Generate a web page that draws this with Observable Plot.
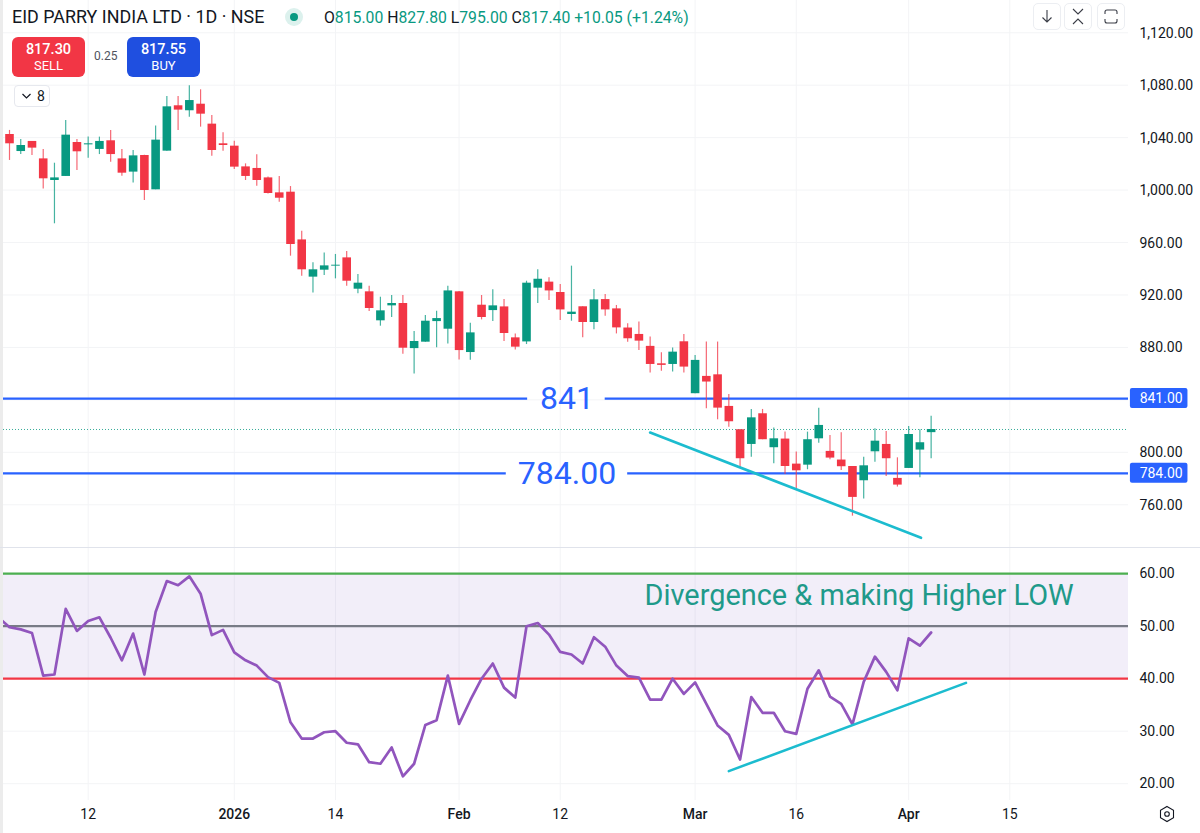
<!DOCTYPE html>
<html><head><meta charset="utf-8">
<script src="https://cdn.jsdelivr.net/npm/d3@7"></script>
<script src="https://cdn.jsdelivr.net/npm/@observablehq/plot@0.6"></script>
<style>
html,body{margin:0;padding:0;background:#fff;}
#chart{position:relative;width:1200px;height:833px;overflow:hidden;font-family:Roboto,sans-serif;color:#131722;}
#chart svg.plot{position:absolute;left:0;display:block;background:transparent;}
.abs{position:absolute;white-space:nowrap;}
.btn{position:absolute;top:37px;width:73px;height:40px;border-radius:6px;color:#fff;text-align:center;font-size:14.5px;font-weight:500;line-height:16px;padding-top:5px;box-sizing:border-box;}
.btn small{display:block;font-size:13px;font-weight:400;}
.ico{position:absolute;top:3px;width:28px;height:27px;border:1px solid #eceef2;border-radius:5px;box-sizing:border-box;background:#fff;}
.ico svg{display:block;}
.g{color:#089981;}
</style></head><body>
<div id="chart">
  <div class="abs" style="left:0;top:0;width:3px;height:833px;background:#ececec"></div>
  <div class="abs" style="left:0;top:547px;width:1200px;height:1px;background:#e0e3eb"></div>
  <div id="p1"></div><div id="p2"></div>
  <div class="abs" style="left:12px;top:6px;font-size:17.9px;line-height:22px;">EID PARRY INDIA LTD · 1D · NSE</div>
  <div class="abs" style="left:285px;top:8px;width:18px;height:18px;border-radius:50%;background:#dcf1ed"></div>
  <div class="abs" style="left:290px;top:13px;width:8px;height:8px;border-radius:50%;background:#089981"></div>
  <div class="abs" style="left:324px;top:7px;font-size:15.75px;line-height:22px;">O<span class="g">815.00</span> H<span class="g">827.80</span> L<span class="g">795.00</span> C<span class="g">817.40</span> <span class="g">+10.05 (+1.24%)</span></div>
  <div class="btn" style="left:12px;background:#f23645">817.30<small>SELL</small></div>
  <div class="abs" style="left:94px;top:49px;font-size:12px;line-height:14px;color:#50535e">0.25</div>
  <div class="btn" style="left:127px;background:#1f4fe0">817.55<small>BUY</small></div>
  <div class="abs" style="left:14px;top:85px;width:36px;height:22px;border:1px solid #e6e8ee;border-radius:4px;box-sizing:border-box;background:#fff;font-size:14px;line-height:20px;">
    <svg width="14" height="20" style="position:absolute;left:5px;top:0"><path d="M2.5 8l4 4 4-4" fill="none" stroke="#131722" stroke-width="1.2"/></svg>
    <span style="position:absolute;left:22px;top:0">8</span></div>
  <div class="ico" style="left:1033px"><svg width="26" height="25"><path d="M13 6v12M8.5 13.5l4.5 4.5 4.5-4.5" fill="none" stroke="#3a3d47" stroke-width="1.1"/></svg></div>
  <div class="ico" style="left:1064px"><svg width="26" height="25"><path d="M8 5l5 5 5-5M8 20l5-5 5 5" fill="none" stroke="#3a3d47" stroke-width="1.1"/></svg></div>
  <div class="ico" style="left:1097px"><svg width="26" height="25"><path d="M7 10V8a2 2 0 0 1 2-2h8a2 2 0 0 1 2 2v2M7 15v2a2 2 0 0 0 2 2h8a2 2 0 0 0 2-2v-2" fill="none" stroke="#3a3d47" stroke-width="1.1"/></svg></div>
  <svg class="abs" style="left:1158px;top:805px" width="18" height="18"><path d="M9 1.5l6.5 3.75v7.5L9 16.5l-6.5-3.75v-7.5z" fill="none" stroke="#131722" stroke-width="1.1"/><circle cx="9" cy="9" r="2.3" fill="none" stroke="#131722" stroke-width="1.1"/></svg>
</div>
<script>
// ---- Candles, one per trading session
const opens = [1042.4,1029.4,1037.1,1023.8,1007.3,1010.4,1036.3,1034.5,1031,1037.6,1023.8,1013.7,1026.4,1000.2,1029.7,1064.3,1060.5,1065.5,1050.3,1035.3,1033.5,1017.7,1016.5,1009.3,997.9,998.4,962,933.6,938.9,942,948.3,924.4,922.4,900.3,911.7,913.5,879.1,884,899.7,893.9,922.4,876.1,912.2,908.1,910.9,887.3,884.2,925.2,929.8,921.9,905.1,911,899,916.5,909.4,894.8,889.9,880.8,867.5,867,884.3,844.7,857.9,859.1,835,817.2,806,829.4,803.5,810.1,791,790.2,810.3,800.7,794.1,789.2,778.3,800.4,806,780.1,787.7,801.7,815];
const closes = [1035.3,1034,1032,1008.6,1009.3,1041.9,1029.2,1035.3,1037.1,1027.1,1012.9,1026.1,999.7,1038.1,1063.5,1061,1068.3,1057.9,1030.2,1034,1017.5,1010.4,1007.3,997.4,993.8,958.5,939.2,939.2,942.2,942.7,930.5,929,909.7,907.9,913.5,879.4,884.5,900,902,923.1,877.6,891.1,902.8,911.7,890.6,880.2,929,932,923.1,908.6,906.9,899,916.3,908.6,894.9,886.6,884.8,867,866.3,876.4,865,870.1,853.6,833.7,823.3,795.1,826.3,809.6,810.3,789.2,785.9,809.6,820.5,795.6,789,765.6,789.7,808.5,795.1,775,813.6,807.3,817.4];
const highs = [1045.5,1038.6,1037.1,1031,1020.5,1053.1,1038.6,1040.4,1040.4,1045.5,1031,1030.2,1026.6,1048.8,1071.4,1071.4,1079.5,1076.5,1056.9,1043.7,1037.3,1020,1026.9,1009.9,1010.4,1002.7,968.6,944.5,952.1,950.9,953.1,935.6,926.7,918.3,919.6,919.6,892.1,904.3,907.6,926.7,922.6,898.5,919.6,923.9,916.5,890.3,930.5,939.2,933.1,928,942,911,924.2,920.3,912,898.1,899.3,887.9,875.9,879.5,889.9,873.9,884.1,884.1,844.1,817.2,832.7,832.7,818.5,815.4,800.2,815.4,833.7,812.9,814.9,789.2,796.3,818,815.9,795.8,819.7,817.2,827.6];
const lows = [1022.6,1027.1,1026.4,1000.9,974.3,1010.4,1014.9,1024.3,1027.1,1021.3,1010.6,1005.5,992.1,1000.2,1029.7,1045.5,1055.6,1048,1025.9,1029.7,1015.7,1007.3,1003,997.1,990.8,949.6,934.3,921.6,934.8,932.3,926.7,920.9,907.4,896.2,902.8,874.8,859.8,884,879.7,882.7,870.5,870.3,901,899.7,884.5,878.1,882.2,913.5,915.8,900.5,900,887.3,893.4,903.8,890.3,884,877.7,860.4,861.9,861.2,860.4,844.7,833.2,824.8,819.2,788.2,796.3,809.6,791.3,783.1,770.9,786.7,807,794.3,786.2,751.3,764.3,792.5,781.6,773.5,787.7,780.6,795];
// RSI; the first value belongs to the session just left of the visible pane
const rsi = [51.7,49.8,49.4,48.7,40.6,40.8,53.3,49.1,51,51.7,47.8,43.5,48.6,40.8,52.7,58.6,57.8,59.5,56.2,48.3,49.3,45,43.5,42.5,40.3,39.2,31.7,28.6,28.6,29.8,30,27.8,27.5,24.1,23.8,26.9,21.4,23.8,31.2,32.1,40.6,31.4,35.9,40,42.9,38.3,36.4,50,50.6,48.4,45.1,44.6,42.9,47.9,46.1,42.5,40.5,40.2,36,36,40,37.1,39.3,35.2,31.1,29.3,24.6,36.5,33.5,33.5,30,29.5,38.1,41.6,36.6,35.2,31.3,39.4,44.2,41.3,37.8,47.7,46.3,48.8];
const priceTicks = [1120,1080,1040,1000,960,920,880,800,760];
const rsiTicks = [60,50,40,30,20];
const dateTicks = [7,29,49,70,89];
const dateLabels = ["12","14","12","16","15"];
const majorTicks = [20,40,61,80];
const majorLabels = ["2026","Feb","Mar","Apr"];
const levels = [
  {value:841, label:"841", tag:"841.00", gapFrom:46.1, gapTo:53.0},
  {value:784, label:"784.00", tag:"784.00", gapFrom:44.2, gapTo:55.0}
];
const priceTrend = [{i:57,v:815.1},{i:81.1,v:734.8}];
const rsiTrend = [{i:64,v:22.4},{i:85.1,v:39.2}];
const lastClose = 817.4;

const GREEN="#089981", RED="#f23645", BLUE="#2962ff", CYAN="#1cbccf", GRID="#f3f4f6", INK="#131722";
const FONT="Roboto, sans-serif";
const xScale = {type:"linear", domain:[-0.534,99.56], range:[3,1128]};
const candles = opens.map((o,i)=>({i,o,c:closes[i],h:highs[i],l:lows[i],color:closes[i]>=o?GREEN:RED}));
const allTicks = [...dateTicks,...majorTicks];

const p1 = Plot.plot({
  width:1200,height:547,marginTop:0,marginBottom:0,marginLeft:3,marginRight:72,
  style:{fontFamily:FONT,background:"transparent"},
  x:{...xScale,axis:null},
  y:{domain:[727.4,1144.6],axis:null},
  marks:[
    Plot.ruleY(priceTicks.concat([840]),{stroke:GRID,strokeWidth:1}),
    Plot.ruleX(allTicks,{stroke:GRID,strokeWidth:1}),
    Plot.ruleY([lastClose],{stroke:GREEN,strokeWidth:1,strokeDasharray:"1,2",strokeOpacity:.8}),
    Plot.ruleY(levels,{y:"value",x1:-0.534,x2:"gapFrom",stroke:BLUE,strokeWidth:2.3}),
    Plot.ruleY(levels,{y:"value",x1:"gapTo",x2:99.56,stroke:BLUE,strokeWidth:2.3}),
    Plot.ruleX(candles,{x:"i",y1:"l",y2:"h",stroke:"color",strokeWidth:1.2,strokeOpacity:.75}),
    Plot.ruleX(candles,{x:"i",y1:"o",y2:"c",stroke:"color",strokeWidth:8.6}),
    Plot.line(priceTrend,{x:"i",y:"v",stroke:CYAN,strokeWidth:2.6}),
    Plot.text(levels,{x:49.6,y:"value",text:"label",fill:BLUE,fontSize:32}),
    Plot.axisY({anchor:"right",ticks:priceTicks,tickFormat:d3.format(",.2f"),tickSize:0,tickPadding:11,label:null,fontSize:14,fill:INK,dy:0.5}),
    Plot.rect(levels,{x1:()=>99.73,x2:()=>104.85,y1:d=>d.value-7.6,y2:d=>d.value+7.6,fill:BLUE,r:2}),
    Plot.text(levels,{x:100.55,y:"value",text:"tag",fill:"#fff",fontSize:14,textAnchor:"start"})
  ]
});
p1.classList.add("plot"); p1.style.top="0px";
document.getElementById("p1").append(p1);

const rsiLine = rsi.map((v,k)=>({i:k-1,v}));
const p2 = Plot.plot({
  width:1200,height:285,marginTop:0,marginBottom:33,marginLeft:3,marginRight:72,
  style:{fontFamily:FONT,background:"transparent"},
  x:{...xScale,axis:null},
  y:{domain:[16.8,64.8],axis:null},
  marks:[
    Plot.ruleY(rsiTicks,{stroke:GRID,strokeWidth:1}),
    Plot.ruleX(allTicks,{stroke:GRID,strokeWidth:1}),
    Plot.rectY([{y1:40,y2:60}],{x1:-0.534,x2:99.56,y1:"y1",y2:"y2",fill:"#7e57c2",fillOpacity:.1}),
    Plot.ruleY([60],{stroke:"#4caf50",strokeWidth:2.3}),
    Plot.ruleY([50],{stroke:"#787b86",strokeWidth:2.3}),
    Plot.ruleY([40],{stroke:RED,strokeWidth:2.3}),
    Plot.line(rsiLine,{x:"i",y:"v",stroke:"#9155bd",strokeWidth:2.7,clip:true}),
    Plot.line(rsiTrend,{x:"i",y:"v",stroke:CYAN,strokeWidth:2.6}),
    Plot.text(["Divergence & making Higher LOW"],{x:56.5,y:55.85,text:d=>d,textAnchor:"start",fill:"#1f9a8a",fontSize:28.9}),
    Plot.axisY({anchor:"right",ticks:rsiTicks,tickFormat:d3.format(".2f"),tickSize:0,tickPadding:11,label:null,fontSize:14,fill:INK}),
    Plot.axisX({anchor:"bottom",ticks:dateTicks,tickFormat:d=>dateLabels[dateTicks.indexOf(d)],tickSize:0,tickPadding:9,label:null,fontSize:14,fill:INK}),
    Plot.axisX({anchor:"bottom",ticks:majorTicks,tickFormat:d=>majorLabels[majorTicks.indexOf(d)],tickSize:0,tickPadding:9,label:null,fontSize:14,fontWeight:500,fill:INK})
  ]
});
p2.classList.add("plot"); p2.style.top="548px";
document.getElementById("p2").append(p2);
</script>
</body></html>
